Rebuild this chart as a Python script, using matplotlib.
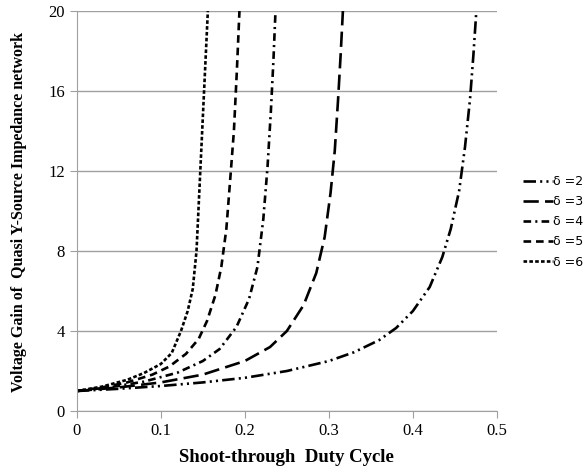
import numpy as np
from matplotlib import pyplot as plt

# shoot-through duty cycle / voltage gain
d_2 = [0, 0.05, 0.1, 0.15, 0.2, 0.25, 0.3, 0.33, 0.36, 0.38, 0.40, 0.42, 0.435, 0.445, 0.455, 0.462, 0.468, 0.472, 0.4755]
g_2 = [1.0, 1.11, 1.25, 1.43, 1.66, 2.0, 2.5, 2.94, 3.55, 4.15, 5.0, 6.2, 7.7, 9.1, 11.0, 13.2, 15.6, 17.8, 20.0]

d_3 = [0, 0.05, 0.1, 0.15, 0.2, 0.23, 0.25, 0.27, 0.285, 0.295, 0.302, 0.307, 0.311, 0.314, 0.3167]
g_3 = [1.0, 1.18, 1.43, 1.82, 2.5, 3.2, 4.0, 5.3, 6.9, 8.7, 10.9, 13.0, 15.6, 17.8, 20.0]

d_4 = [0, 0.04, 0.08, 0.12, 0.15, 0.17, 0.19, 0.205, 0.215, 0.222, 0.227, 0.231, 0.234, 0.2365]
g_4 = [1.0, 1.19, 1.47, 1.92, 2.5, 3.1, 4.2, 5.6, 7.2, 9.6, 12.2, 15.0, 17.5, 20.0]

d_5 = [0, 0.03, 0.06, 0.09, 0.11, 0.13, 0.145, 0.155, 0.165, 0.172, 0.178, 0.183, 0.187, 0.1905, 0.1936]
g_5 = [1.0, 1.18, 1.43, 1.82, 2.22, 2.86, 3.6, 4.5, 5.8, 7.2, 9.1, 11.8, 14.0, 17.0, 20.0]

d_6 = [0, 0.03, 0.06, 0.08, 0.1, 0.113, 0.124, 0.132, 0.138, 0.1425, 0.147, 0.1515, 0.156]
g_6 = [1.0, 1.22, 1.56, 1.9, 2.35, 2.9, 4.0, 5.0, 6.1, 8.0, 12.0, 16.0, 20.0]

labels = ['δ =2', 'δ =3', 'δ =4', 'δ =5', 'δ =6']
x_ticks = [0, 0.1, 0.2, 0.3, 0.4, 0.5]
y_ticks = [0, 4, 8, 12, 16, 20]


def main():
    plt.rcParams['lines.scale_dashes'] = False
    serif = ['Liberation Serif', 'DejaVu Serif']

    fig = plt.figure(figsize=(5.86, 4.70), dpi=100)
    ax = fig.add_axes([0.131, 0.1255, 0.717, 0.851])

    styles = [
        (0, (9, 3, 1.5, 3, 1.5, 3)),
        (0, (11, 4.5)),
        (0, (5.5, 3, 1.5, 3)),
        (0, (5.5, 3.5)),
        (0, (2.6, 1.6)),
    ]
    series = [(d_2, g_2), (d_3, g_3), (d_4, g_4), (d_5, g_5), (d_6, g_6)]
    for (d, g), ls, lab in zip(series, styles, labels):
        ax.plot(d, g, color='black', lw=1.9, linestyle=ls, label=lab)

    ax.set_xlim(0, 0.5)
    ax.set_ylim(0, 20)
    ax.set_xticks(x_ticks)
    ax.set_xticklabels(['0', '0.1', '0.2', '0.3', '0.4', '0.5'])
    ax.set_yticks(y_ticks)
    ax.grid(axis='y', color='#a0a0a0', lw=1)
    ax.set_axisbelow(True)
    for s in ('top', 'right'):
        ax.spines[s].set_visible(False)
    for s in ('left', 'bottom'):
        ax.spines[s].set_color('#a0a0a0')
    ax.tick_params(direction='out', length=5, color='#a0a0a0', labelsize=12)
    for t in ax.get_xticklabels() + ax.get_yticklabels():
        t.set_family(serif)

    ax.set_xlabel('Shoot-through  Duty Cycle', family=serif, fontsize=13.5,
                  fontweight='bold', labelpad=7)
    ax.set_ylabel('Voltage Gain of  Quasi Y-Source Impedance network', family=serif,
                  fontsize=11.5, fontweight='bold')
    ax.yaxis.set_label_coords(-0.119, 0.4975)

    ax.legend(loc='center left', bbox_to_anchor=(0.873, 0.528), bbox_transform=fig.transFigure,
              frameon=False, fontsize=9, handlelength=2.4, handletextpad=0.05,
              labelspacing=0.57, borderpad=0.4)

    fig.savefig('out.png', dpi=100)


if __name__ == '__main__':
    main()
